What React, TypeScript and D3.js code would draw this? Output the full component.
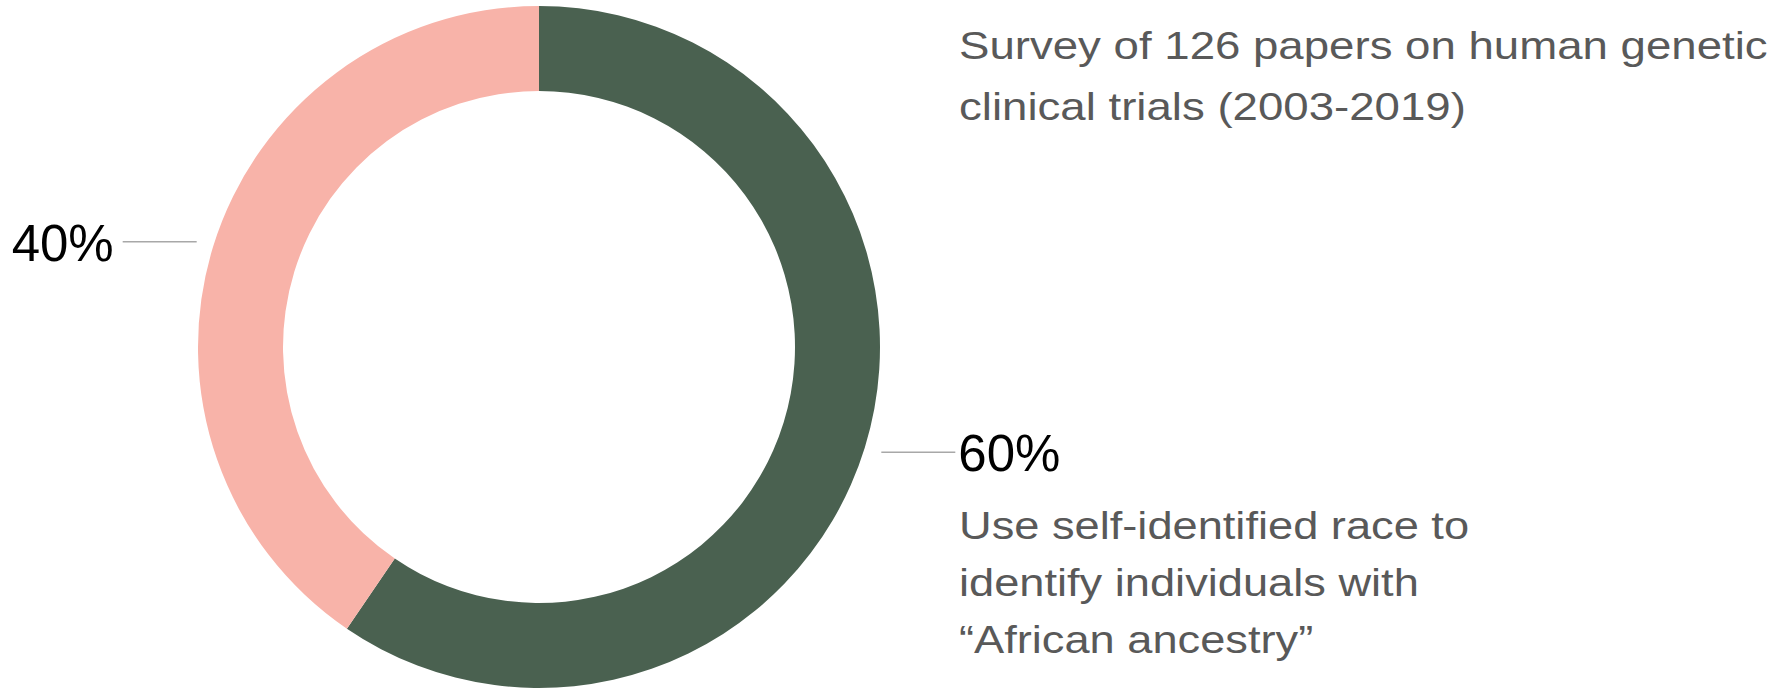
import { useEffect, useRef } from "react";
import * as d3 from "d3";

const categories = ["Self-identified race", "Other"];
const paperCounts = [75, 51];
const shares = [60, 40];
const shareLabels = ["60%", "40%"];
const titleLines = ["Survey of 126 papers on human genetic", "clinical trials (2003-2019)"];
const noteLines = ["Use self-identified race to", "identify individuals with", "\u201cAfrican ancestry\u201d"];

const colors = { green: "#4a6150", pink: "#f8b3a9", text: "#595959", leader: "#a8a8a8" };
const font = "'Liberation Sans', Arial, Helvetica, sans-serif";

export default function DonutChart() {
  const svgRef = useRef<SVGSVGElement>(null);

  useEffect(() => {
    if (!svgRef.current) return;
    const svg = d3.select(svgRef.current);
    const width = 1786;
    const height = 690;
    const cx = 539;
    const cy = 347;
    const outer = 341;
    const inner = 256;

    svg.selectAll("*").remove();
    svg.attr("viewBox", `0 0 ${width} ${height}`);

    const pie = d3.pie<number>().sort(null);
    const slices = pie(paperCounts);
    // labels sit at the mid angle of the rounded shares
    const labelSlices = pie(shares);

    const arc = d3.arc<any>().innerRadius(inner).outerRadius(outer);
    const edge = d3.arc<any>().innerRadius(outer).outerRadius(outer);

    const g = svg.append("g").attr("transform", `translate(${cx},${cy})`);

    g.selectAll("path.slice")
      .data(slices)
      .join("path")
      .attr("class", "slice")
      .attr("d", arc)
      .attr("fill", (_, i) => (i === 0 ? colors.green : colors.pink))
      .append("title")
      .text((_, i) => categories[i]);

    labelSlices.forEach((a, i) => {
      const [px, py] = edge.centroid(a);
      const side = px > 0 ? 1 : -1;
      g.append("line")
        .attr("x1", px + side * 18)
        .attr("x2", px + side * 92)
        .attr("y1", py)
        .attr("y2", py)
        .attr("stroke", colors.leader)
        .attr("stroke-width", 1.5);
      g.append("text")
        .attr("x", px + side * (side > 0 ? 95 : 101))
        .attr("y", py + 19)
        .attr("text-anchor", side > 0 ? "start" : "end")
        .attr("font-family", font)
        .attr("font-size", 51)
        .attr("fill", "#000")
        .text(shareLabels[i]);
    });

    const title = svg
      .append("g")
      .attr("transform", "translate(959,0) scale(1.2,1)")
      .attr("font-family", font)
      .attr("font-size", 38)
      .attr("fill", colors.text);
    title
      .selectAll("text")
      .data(titleLines)
      .join("text")
      .attr("x", 0)
      .attr("y", (_, i) => 59 + i * 61)
      .text((d) => d);

    const note = svg
      .append("g")
      .attr("transform", "translate(959,0) scale(1.19,1)")
      .attr("font-family", font)
      .attr("font-size", 38)
      .attr("fill", colors.text);
    note
      .selectAll("text")
      .data(noteLines)
      .join("text")
      .attr("x", 0)
      .attr("y", (_, i) => 539 + i * 57)
      .text((d) => d);
  }, []);

  return (
    <div style={{ position: "absolute", top: 0, left: 0, width: 1786, height: 690, background: "#fff" }}>
      <svg ref={svgRef} width={1786} height={690} style={{ display: "block" }} />
    </div>
  );
}
